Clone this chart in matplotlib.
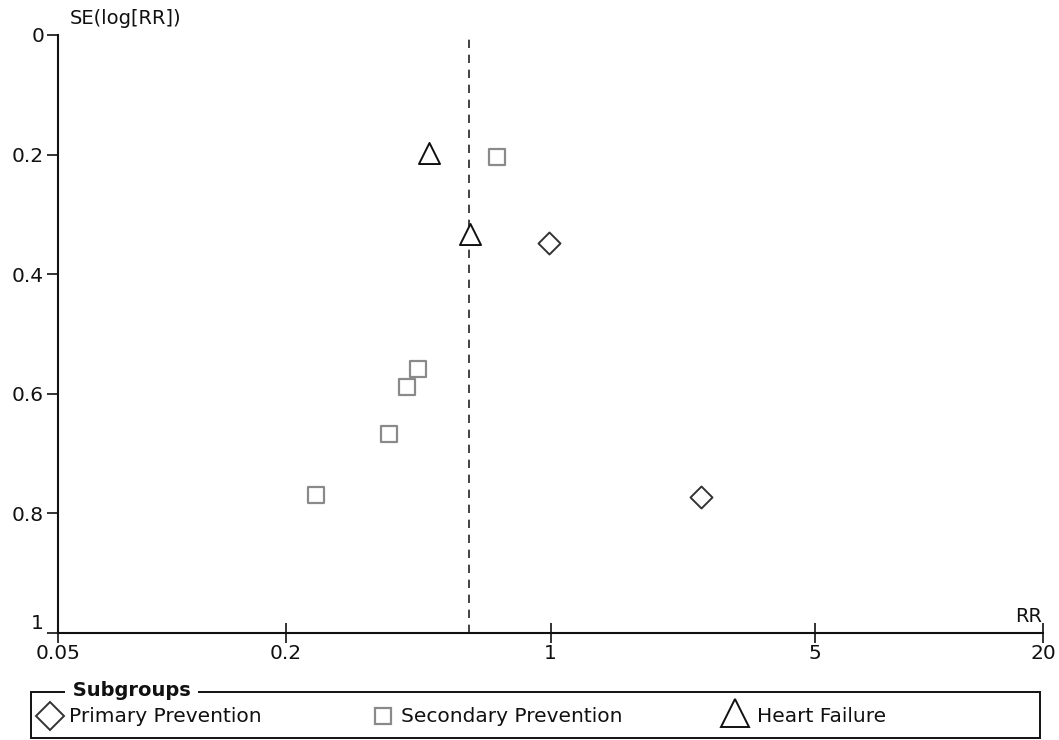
import matplotlib
matplotlib.use("Agg")
import matplotlib.pyplot as plt
from matplotlib.patches import Rectangle

# Data
primary_rr = [0.99, 2.50]
primary_se = [0.348, 0.773]
secondary_rr = [0.722, 0.446, 0.418, 0.375, 0.240]
secondary_se = [0.204, 0.559, 0.589, 0.667, 0.770]
hf_rr = [0.479, 0.614]
hf_se = [0.197, 0.332]
pooled_rr = 0.61

x_ticks = [0.05, 0.2, 1, 5, 20]
x_tick_labels = ["0.05", "0.2", "1", "5", "20"]
y_ticks = [0, 0.2, 0.4, 0.6, 0.8, 1]
y_tick_labels = ["0", "0.2", "0.4", "0.6", "0.8", "1"]
legend_labels = ["Primary Prevention", "Secondary Prevention", "Heart Failure"]

plt.rcParams['font.family'] = ['DejaVu Sans']
fig = plt.figure(figsize=(10.59, 7.40), dpi=100)
W, H = 1059, 740
ax = fig.add_axes([58 / W, 1 - 633 / H, (1043 - 58) / W, (633 - 35) / H])

ax.set_xscale("log")
ax.set_xlim(0.05, 20)
ax.set_ylim(1, 0)

ax.axvline(pooled_rr, color="#222222", lw=1.2, ls=(0, (5, 4)), zorder=1)

ax.scatter(primary_rr, primary_se, marker="D", s=125, facecolors="white",
           edgecolors="#333333", linewidths=1.4, zorder=3)
ax.scatter(secondary_rr, secondary_se, marker="s", s=140, facecolors="white",
           edgecolors="#8a8a8a", linewidths=1.6, zorder=3)
ax.scatter(hf_rr, hf_se, marker="^", s=230, facecolors="white",
           edgecolors="#111111", linewidths=1.4, zorder=3)

for s in ["top", "right"]:
    ax.spines[s].set_visible(False)
for s in ["left", "bottom"]:
    ax.spines[s].set_linewidth(1.5)
    ax.spines[s].set_color("#111111")

ax.set_xticks(x_ticks)
ax.set_xticklabels(x_tick_labels)
ax.xaxis.set_minor_locator(matplotlib.ticker.NullLocator())
ax.set_yticks(y_ticks)
ax.set_yticklabels(y_tick_labels)
ax.tick_params(axis="x", direction="inout", length=14, width=1.2, labelsize=14.5,
               pad=1, colors="#111111")
ax.tick_params(axis="y", direction="out", length=8, width=1.2, labelsize=14.5,
               pad=2, colors="#111111")
# lift the bottom y label slightly so it does not touch the 0.05 label
for lbl in ax.get_yticklabels():
    if lbl.get_text() == "1":
        lbl.set_va("bottom")

fig.text(70 / W, 1 - 18 / H, "SE(log[RR])", fontsize=14, ha="left", va="center",
         color="#111111")
fig.text(1042 / W, 1 - 617 / H, "RR", fontsize=14, ha="right", va="center",
         color="#111111")

# Legend box
lax = fig.add_axes([0, 0, 1, 1], facecolor="none")
lax.set_xlim(0, W)
lax.set_ylim(H, 0)
lax.axis("off")
lax.add_patch(Rectangle((31, 692), 1040 - 31, 46, fill=False, lw=1.4,
                        edgecolor="#111111"))
lax.text(66, 690, " Subgroups ", fontsize=14, fontweight="bold", ha="left",
         va="center", color="#111111",
         bbox=dict(facecolor="white", edgecolor="none", pad=0.5))
lax.plot([50], [716], marker="D", ms=14, mfc="white", mec="#333333", mew=1.4)
lax.plot([383], [716], marker="s", ms=12, mfc="white", mec="#8a8a8a", mew=1.6)
lax.plot([735], [713], marker="^", ms=20, mfc="white", mec="#111111", mew=1.4)
for xpos, lab in zip([69, 401, 757], legend_labels):
    lax.text(xpos, 716, lab, fontsize=14.5, ha="left", va="center", color="#111111")

fig.savefig("out.png", dpi=100, facecolor="white")
